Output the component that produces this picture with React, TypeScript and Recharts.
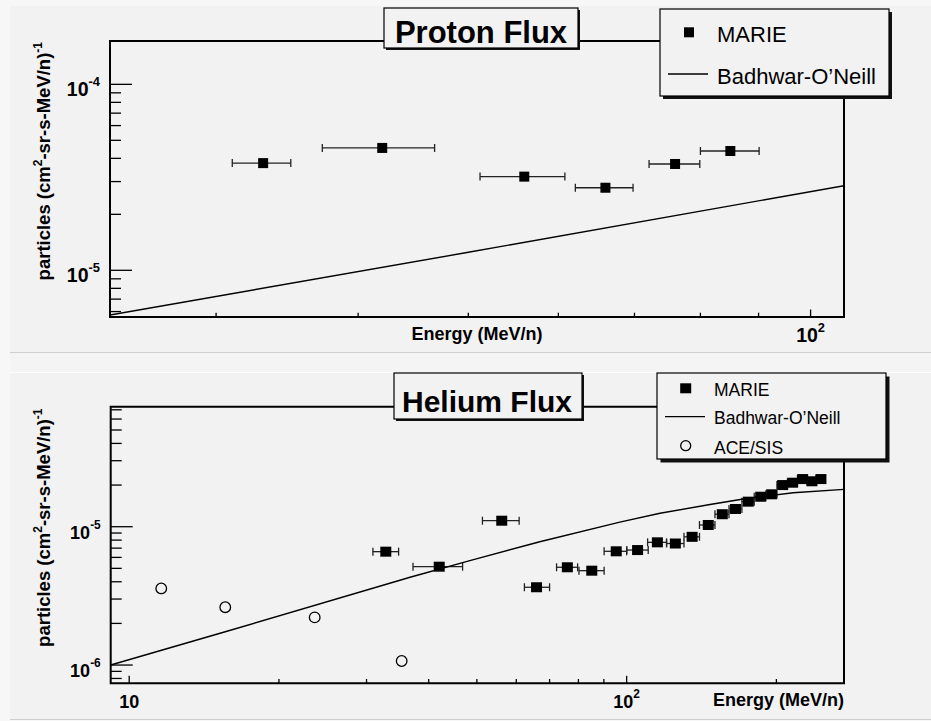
import React from 'react';
import { ScatterChart, Scatter, XAxis, YAxis, ErrorBar, ReferenceArea } from 'recharts';

const FONT = '"Liberation Sans", Arial, Helvetica, sans-serif';
const BG = '#f2f2f2';

// ---- proton panel (MeV/n, particles / cm2-sr-s-MeV/n)
const protonEnergy = [33, 42, 56, 66, 76, 85];
const protonLow = [31, 37.2, 51.2, 62.1, 72.1, 80];
const protonHigh = [34.9, 46.7, 60.8, 69.8, 79.9, 90.1];
const protonFlux = [3.77e-5, 4.55e-5, 3.19e-5, 2.78e-5, 3.73e-5, 4.38e-5];
const protonModelEnergy = [24.2, 50, 107];
const protonModelFlux = [5.75e-6, 1.25e-5, 2.85e-5];

// ---- helium panel
const heliumEnergy = [32.8, 42, 56.1, 65.9, 76, 85.1, 95.3, 105.2, 115.3, 125.3, 135.4, 145.9, 155.7, 165.5, 175.6, 186, 195.7, 205.9, 215.6, 225.9, 235.8, 245.8];
const heliumLow = [30.9, 37.2, 51.3, 62.3, 72.3, 80.2, 90.1, 100.1, 110.2, 120.3, 130.4, 140.1, 150.5, 160.6, 170.5, 180.5, 190.5, 200.5, 210.5, 220.5, 230.5, 240.5];
const heliumHigh = [34.8, 46.8, 60.8, 70, 79.7, 90.1, 100, 110.5, 120.3, 130.4, 140.1, 150.5, 160.6, 170.5, 180.5, 190.5, 200.5, 210.5, 220.5, 230.5, 240.5, 250.5];
const heliumFlux = [6.6e-6, 5.14e-6, 1.105e-5, 3.65e-6, 5.09e-6, 4.81e-6, 6.64e-6, 6.78e-6, 7.71e-6, 7.56e-6, 8.45e-6, 1.029e-5, 1.231e-5, 1.343e-5, 1.517e-5, 1.647e-5, 1.715e-5, 2.0e-5, 2.08e-5, 2.21e-5, 2.13e-5, 2.21e-5];
const aceEnergy = [11.6, 15.6, 23.6, 35.3];
const aceFlux = [3.58e-6, 2.62e-6, 2.21e-6, 1.07e-6];
const heliumModelEnergy = [9.18, 15.6, 36.7, 48.4, 66.9, 96.9, 116.7, 147.1, 171.6, 216.2, 273.5];
const heliumModelFlux = [1.0e-6, 1.74e-6, 4.31e-6, 5.68e-6, 7.79e-6, 1.08e-5, 1.25e-5, 1.447e-5, 1.586e-5, 1.761e-5, 1.863e-5];

// ---- axes
const protonXDomain = [24.2, 107];
const protonYDomain = [5.61e-6, 1.71e-4];
const protonXTicks = [30, 40, 50, 60, 70, 80, 90, 100];
const protonYTicks = [6e-6, 7e-6, 8e-6, 9e-6, 1e-5, 2e-5, 3e-5, 4e-5, 5e-5, 6e-5, 7e-5, 8e-5, 9e-5, 1e-4];
const heliumXDomain = [9.18, 273.5];
const heliumYDomain = [7.38e-7, 7.37e-5];
const heliumXTicks = [10, 20, 30, 40, 50, 60, 70, 80, 90, 100, 200];
const heliumYTicks = [8e-7, 9e-7, 1e-6, 2e-6, 3e-6, 4e-6, 5e-6, 6e-6, 7e-6, 8e-6, 9e-6, 1e-5, 2e-5, 3e-5, 4e-5, 5e-5, 6e-5, 7e-5];

const yLabel = 'particles (cm';
const yLabelMid = '-sr-s-MeV/n)';
const xLabel = 'Energy (MeV/n)';

const rows = (xs: number[], ys: number[], lo?: number[], hi?: number[]) =>
  xs.map((x, i) => ({ x, y: ys[i], xErr: lo && hi ? [x - lo[i], hi[i] - x] : [0, 0] }));

const isMajor = (v: number) => Math.abs(Math.log10(v) - Math.round(Math.log10(v))) < 1e-6;

const makeYTick = (fs: number) => (p: any) => {
  const v = p.payload.value;
  const major = isMajor(v);
  const e = Math.round(Math.log10(v));
  return (
    <g>
      <line x1={p.x} x2={p.x + (major ? 22 : 11)} y1={p.y} y2={p.y} stroke="#000" strokeWidth={1.3} />
      {major && (
        <text x={p.x - 10} y={p.y + 12} textAnchor="end" fontFamily={FONT} fontWeight="bold" fontSize={fs} fill="#000">
          <tspan>10</tspan>
          <tspan dy={-10} fontSize={fs * 0.66}>{`${e}`}</tspan>
        </text>
      )}
    </g>
  );
};

const makeXTick = (fs: number) => (p: any) => {
  const v = p.payload.value;
  const major = isMajor(v);
  const e = Math.round(Math.log10(v));
  return (
    <g>
      <line x1={p.x} x2={p.x} y1={p.y} y2={p.y - (major ? 7.5 : 4.3)} stroke="#000" strokeWidth={1.3} />
      {major && (
        <text x={p.x} y={p.y + 25} textAnchor="middle" fontFamily={FONT} fontWeight="bold" fontSize={fs} fill="#000">
          <tspan>10</tspan>
          {e !== 1 && <tspan dy={-10} fontSize={fs * 0.66}>{`${e}`}</tspan>}
        </text>
      )}
    </g>
  );
};

const square = (w: number, h: number) => (p: any) => (
  <rect x={p.cx - w / 2} y={p.cy - h / 2} width={w} height={h} fill="#000" />
);
const circle = (p: any) => <circle cx={p.cx} cy={p.cy} r={5.3} fill="none" stroke="#000" strokeWidth={1.3} />;
const noMark = () => <g />;

function Panel(props: {
  top: number; height: number; margin: any;
  xDomain: number[]; yDomain: number[]; xTicks: number[]; yTicks: number[];
  fs: number; children: React.ReactNode;
}) {
  const { xDomain, yDomain } = props;
  return (
    <div style={{ position: 'absolute', left: 0, top: props.top }}>
      <ScatterChart width={931} height={props.height} margin={props.margin}>
        <XAxis type="number" dataKey="x" scale="log" domain={xDomain} allowDataOverflow ticks={props.xTicks}
          interval={0} height={30} tickSize={0} tickMargin={0} axisLine={false} tickLine={false} tick={makeXTick(props.fs)} />
        <YAxis type="number" dataKey="y" scale="log" domain={yDomain} allowDataOverflow ticks={props.yTicks}
          interval={0} width={60} tickSize={0} tickMargin={0} axisLine={false} tickLine={false} tick={makeYTick(props.fs)} />
        {props.children}
        <ReferenceArea x1={xDomain[0]} x2={xDomain[1]} y1={yDomain[0]} y2={yDomain[1]} fill="none"
          stroke="#000" strokeWidth={2} ifOverflow="visible" />
      </ScatterChart>
    </div>
  );
}

function AxisTitleY({ x, yEnd }: { x: number; yEnd: number }) {
  return (
    <text x={x} y={yEnd} transform={`rotate(-90 ${x} ${yEnd})`} textAnchor="end" fontFamily={FONT} fontWeight="bold" fontSize={18.5}>
      <tspan>{yLabel}</tspan>
      <tspan dy={-8} fontSize={12}>2</tspan>
      <tspan dy={8}>{yLabelMid}</tspan>
      <tspan dy={-8} fontSize={12}>-1</tspan>
    </text>
  );
}

function Box({ x, y, w, h, shadow }: { x: number; y: number; w: number; h: number; shadow: number }) {
  return (
    <g>
      <rect x={x + shadow} y={y + shadow} width={w} height={h} fill="#111" />
      <rect x={x} y={y} width={w} height={h} fill={BG} stroke="#000" strokeWidth={1.2} />
    </g>
  );
}

export default function App() {
  const protonData = rows(protonEnergy, protonFlux, protonLow, protonHigh);
  const protonModel = rows(protonModelEnergy, protonModelFlux);
  const heliumData = rows(heliumEnergy, heliumFlux, heliumLow, heliumHigh);
  const aceData = rows(aceEnergy, aceFlux);
  const heliumModel = rows(heliumModelEnergy, heliumModelFlux);

  return (
    <div style={{ position: 'absolute', left: 0, top: 0, width: 931, height: 721, background: '#f7f7f7', overflow: 'hidden', fontFamily: FONT }}>
      <div style={{ position: 'absolute', left: 10, top: 6, width: 921, height: 346, background: BG, borderBottom: '1px solid #cfcfcf' }} />
      <div style={{ position: 'absolute', left: 10, top: 353, width: 921, height: 19, background: '#f4f4f4' }} />
      <div style={{ position: 'absolute', left: 10, top: 372, width: 921, height: 346, background: BG, borderTop: '1px solid #fdfdfd', borderBottom: '1px solid #cfcfcf' }} />

      <Panel top={0} height={360} margin={{ top: 41, right: 87, bottom: 13, left: 50 }}
        xDomain={protonXDomain} yDomain={protonYDomain} xTicks={protonXTicks} yTicks={protonYTicks} fs={19.5}>
        <Scatter data={protonModel} shape={noMark} line={{ stroke: '#000', strokeWidth: 1.4 }} isAnimationActive={false} />
        <Scatter data={protonData} shape={square(10, 10)} isAnimationActive={false}>
          <ErrorBar dataKey="xErr" direction="x" width={4} stroke="#222" strokeWidth={1.3} />
        </Scatter>
      </Panel>

      <Panel top={360} height={361} margin={{ top: 46.7, right: 87, bottom: 7.7, left: 50.7 }}
        xDomain={heliumXDomain} yDomain={heliumYDomain} xTicks={heliumXTicks} yTicks={heliumYTicks} fs={18}>
        <Scatter data={heliumModel} shape={noMark} line={{ stroke: '#000', strokeWidth: 1.4 }} isAnimationActive={false} />
        <Scatter data={aceData} shape={circle} isAnimationActive={false} />
        <Scatter data={heliumData} shape={square(11, 10)} isAnimationActive={false}>
          <ErrorBar dataKey="xErr" direction="x" width={4} stroke="#222" strokeWidth={1.3} />
        </Scatter>
      </Panel>

      <svg width={931} height={721} style={{ position: 'absolute', left: 0, top: 0, pointerEvents: 'none' }}>
        {/* top panel */}
        <AxisTitleY x={50} yEnd={42} />
        <text x={477} y={340} textAnchor="middle" fontFamily={FONT} fontWeight="bold" fontSize={18}>{xLabel}</text>
        <Box x={384} y={8} w={194} h={40} shadow={2} />
        <text x={481} y={43} textAnchor="middle" fontFamily={FONT} fontWeight="bold" fontSize={31}>Proton Flux</text>
        <Box x={660} y={9} w={229} h={87} shadow={3} />
        <rect x={684} y={27.3} width={10} height={10} fill="#000" />
        <text x={717} y={41.5} fontFamily={FONT} fontSize={22}>MARIE</text>
        <line x1={668} x2={708} y1={74} y2={74} stroke="#000" strokeWidth={1.3} />
        <text x={717} y={84} fontFamily={FONT} fontSize={22}>Badhwar-O’Neill</text>

        {/* bottom panel */}
        <AxisTitleY x={50} yEnd={408.5} />
        <text x={844} y={705.7} textAnchor="end" fontFamily={FONT} fontWeight="bold" fontSize={18}>{xLabel}</text>
        <Box x={394} y={373} w={188} h={46} shadow={2} />
        <text x={487} y={412.3} textAnchor="middle" fontFamily={FONT} fontWeight="bold" fontSize={30}>Helium Flux</text>
        <Box x={657} y={373} w={229} h={86} shadow={3.5} />
        <rect x={680.2} y={383.3} width={11} height={10} fill="#000" />
        <text x={714} y={396} fontFamily={FONT} fontSize={17.5}>MARIE</text>
        <line x1={665} x2={705} y1={416.7} y2={416.7} stroke="#000" strokeWidth={1.3} />
        <text x={714} y={423.5} fontFamily={FONT} fontSize={17.5}>Badhwar-O’Neill</text>
        <circle cx={685.7} cy={445.7} r={5} fill="none" stroke="#000" strokeWidth={1.3} />
        <text x={714} y={454} fontFamily={FONT} fontSize={17.5}>ACE/SIS</text>
      </svg>
    </div>
  );
}
